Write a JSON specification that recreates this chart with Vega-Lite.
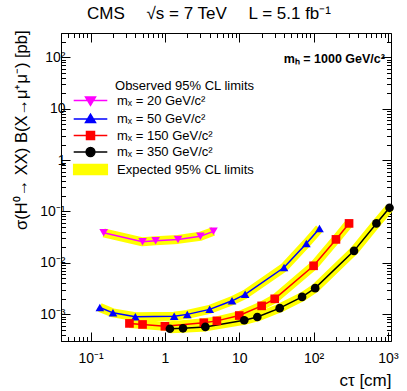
{
  "$schema": "https://vega.github.io/schema/vega-lite/v6.json",
  "width": 330,
  "height": 308,
  "autosize": "none",
  "padding": {"left": 61, "top": 33, "right": 16, "bottom": 50},
  "config": {"font": "Liberation Sans", "view": {"stroke": null}},
  "title": {"text": "CMS\u2003 \u221As = 7 TeV\u2003 L = 5.1 fb\u207B\u00B9", "anchor": "start", "frame": "group", "dx": 26, "fontSize": 17, "fontWeight": "normal", "offset": 3, "color": "black"},
  "data": {"values": [
    {"series": "m\u2093 = 20 GeV/c\u00B2", "ctau": 0.15, "limit": 0.0385},
    {"series": "m\u2093 = 20 GeV/c\u00B2", "ctau": 0.5, "limit": 0.0257},
    {"series": "m\u2093 = 20 GeV/c\u00B2", "ctau": 0.75, "limit": 0.0268},
    {"series": "m\u2093 = 20 GeV/c\u00B2", "ctau": 1.5, "limit": 0.0286},
    {"series": "m\u2093 = 20 GeV/c\u00B2", "ctau": 3, "limit": 0.033},
    {"series": "m\u2093 = 20 GeV/c\u00B2", "ctau": 4.5, "limit": 0.041},
    {"series": "m\u2093 = 50 GeV/c\u00B2", "ctau": 0.1333, "limit": 0.00135},
    {"series": "m\u2093 = 50 GeV/c\u00B2", "ctau": 0.2, "limit": 0.00106},
    {"series": "m\u2093 = 50 GeV/c\u00B2", "ctau": 0.4, "limit": 0.00089},
    {"series": "m\u2093 = 50 GeV/c\u00B2", "ctau": 1.333, "limit": 0.00091},
    {"series": "m\u2093 = 50 GeV/c\u00B2", "ctau": 2, "limit": 0.00099},
    {"series": "m\u2093 = 50 GeV/c\u00B2", "ctau": 4, "limit": 0.00124},
    {"series": "m\u2093 = 50 GeV/c\u00B2", "ctau": 8, "limit": 0.00182},
    {"series": "m\u2093 = 50 GeV/c\u00B2", "ctau": 12, "limit": 0.00243},
    {"series": "m\u2093 = 50 GeV/c\u00B2", "ctau": 40, "limit": 0.0081},
    {"series": "m\u2093 = 50 GeV/c\u00B2", "ctau": 80, "limit": 0.0239},
    {"series": "m\u2093 = 50 GeV/c\u00B2", "ctau": 120, "limit": 0.0467},
    {"series": "m\u2093 = 150 GeV/c\u00B2", "ctau": 0.3333, "limit": 0.00066},
    {"series": "m\u2093 = 150 GeV/c\u00B2", "ctau": 0.5, "limit": 0.00063},
    {"series": "m\u2093 = 150 GeV/c\u00B2", "ctau": 1, "limit": 0.00058},
    {"series": "m\u2093 = 150 GeV/c\u00B2", "ctau": 3.333, "limit": 0.00068},
    {"series": "m\u2093 = 150 GeV/c\u00B2", "ctau": 5, "limit": 0.00074},
    {"series": "m\u2093 = 150 GeV/c\u00B2", "ctau": 10, "limit": 0.00094},
    {"series": "m\u2093 = 150 GeV/c\u00B2", "ctau": 20, "limit": 0.00145},
    {"series": "m\u2093 = 150 GeV/c\u00B2", "ctau": 30, "limit": 0.00199},
    {"series": "m\u2093 = 150 GeV/c\u00B2", "ctau": 100, "limit": 0.00875},
    {"series": "m\u2093 = 150 GeV/c\u00B2", "ctau": 200, "limit": 0.0286},
    {"series": "m\u2093 = 150 GeV/c\u00B2", "ctau": 300, "limit": 0.0586},
    {"series": "m\u2093 = 350 GeV/c\u00B2", "ctau": 1.1667, "limit": 0.00052},
    {"series": "m\u2093 = 350 GeV/c\u00B2", "ctau": 1.75, "limit": 0.00053},
    {"series": "m\u2093 = 350 GeV/c\u00B2", "ctau": 3.5, "limit": 0.000565},
    {"series": "m\u2093 = 350 GeV/c\u00B2", "ctau": 11.667, "limit": 0.00076},
    {"series": "m\u2093 = 350 GeV/c\u00B2", "ctau": 17.5, "limit": 0.00088},
    {"series": "m\u2093 = 350 GeV/c\u00B2", "ctau": 35, "limit": 0.00131},
    {"series": "m\u2093 = 350 GeV/c\u00B2", "ctau": 70, "limit": 0.00217},
    {"series": "m\u2093 = 350 GeV/c\u00B2", "ctau": 105, "limit": 0.00321},
    {"series": "m\u2093 = 350 GeV/c\u00B2", "ctau": 350, "limit": 0.0171},
    {"series": "m\u2093 = 350 GeV/c\u00B2", "ctau": 700, "limit": 0.0586},
    {"series": "m\u2093 = 350 GeV/c\u00B2", "ctau": 1050, "limit": 0.118}
  ]},
  "resolve": {"axis": {"x": "independent", "y": "independent"}},
  "layer": [
    {
      "mark": {"type": "line", "strokeWidth": 9, "strokeCap": "butt", "strokeJoin": "round"},
      "encoding": {
        "x": {"field": "ctau", "type": "quantitative",
          "scale": {"type": "log", "domain": [0.04, 1100], "nice": false},
          "axis": {"orient": "bottom", "grid": false,
            "values": [0.04,0.05,0.06,0.07,0.08,0.09,0.1,0.2,0.3,0.4,0.5,0.6,0.7,0.8,0.9,1,2,3,4,5,6,7,8,9,10,20,30,40,50,60,70,80,90,100,200,300,400,500,600,700,800,900,1000],
            "labelExpr": "datum.value == 0.1 ? '10\u207B\u00B9' : datum.value == 1 ? '1' : datum.value == 10 ? '10' : datum.value == 100 ? '10\u00B2' : datum.value == 1000 ? '10\u00B3' : ''",
            "tickSize": {"condition": {"test": "indexof([0.1,1,10,100,1000], datum.value) >= 0", "value": -9}, "value": -4.5},
            "tickColor": "black", "domainColor": "black", "labelColor": "black",
            "labelFontSize": 14, "labelPadding": 19, "labelFlush": false, "labelOverlap": false, "labelBound": false,
            "title": "c\u03C4 [cm]", "titleAnchor": "end", "titleFontSize": 17, "titleFontWeight": "normal", "titleColor": "black", "titlePadding": 3}},
        "y": {"field": "limit", "type": "quantitative",
          "scale": {"type": "log", "domain": [0.0003, 300], "nice": false},
          "axis": {"orient": "left", "grid": false,
            "values": [0.0003,0.0004,0.0005,0.0006,0.0007,0.0008,0.0009,0.001,0.002,0.003,0.004,0.005,0.006,0.007,0.008,0.009,0.01,0.02,0.03,0.04,0.05,0.06,0.07,0.08,0.09,0.1,0.2,0.3,0.4,0.5,0.6,0.7,0.8,0.9,1,2,3,4,5,6,7,8,9,10,20,30,40,50,60,70,80,90,100,200,300],
            "labelExpr": "datum.value == 0.001 ? '10\u207B\u00B3' : datum.value == 0.01 ? '10\u207B\u00B2' : datum.value == 0.1 ? '10\u207B\u00B9' : datum.value == 1 ? '1' : datum.value == 10 ? '10' : datum.value == 100 ? '10\u00B2' : ''",
            "tickSize": {"condition": {"test": "indexof([0.001,0.01,0.1,1,10,100], datum.value) >= 0", "value": -9}, "value": -4.5},
            "tickColor": "black", "domainColor": "black", "labelColor": "black",
            "labelFontSize": 14, "labelPadding": 5, "labelFlush": false, "labelOverlap": false, "labelBound": false,
            "title": "\u03C3(H\u2070\u2192 XX) B(X\u2192\u03BC\u207A\u03BC\u207B) [pb]", "titleAnchor": "end", "titleFontSize": 16.5, "titleFontWeight": "normal", "titleColor": "black", "titlePadding": 10, "titleY": -3}},
        "color": {"datum": "Expected 95% CL limits"},
        "detail": {"field": "series"}
      }
    },
    {
      "mark": {"type": "line", "strokeWidth": 1.5},
      "encoding": {
        "x": {"field": "ctau", "type": "quantitative",
          "axis": {"orient": "top", "grid": false, "labels": false, "title": null,
            "values": [0.04,0.05,0.06,0.07,0.08,0.09,0.1,0.2,0.3,0.4,0.5,0.6,0.7,0.8,0.9,1,2,3,4,5,6,7,8,9,10,20,30,40,50,60,70,80,90,100,200,300,400,500,600,700,800,900,1000],
            "tickSize": {"condition": {"test": "indexof([0.1,1,10,100,1000], datum.value) >= 0", "value": -9}, "value": -4.5},
            "tickColor": "black", "domainColor": "black"}},
        "y": {"field": "limit", "type": "quantitative",
          "axis": {"orient": "right", "grid": false, "labels": false, "title": null,
            "values": [0.0003,0.0004,0.0005,0.0006,0.0007,0.0008,0.0009,0.001,0.002,0.003,0.004,0.005,0.006,0.007,0.008,0.009,0.01,0.02,0.03,0.04,0.05,0.06,0.07,0.08,0.09,0.1,0.2,0.3,0.4,0.5,0.6,0.7,0.8,0.9,1,2,3,4,5,6,7,8,9,10,20,30,40,50,60,70,80,90,100,200,300],
            "tickSize": {"condition": {"test": "indexof([0.001,0.01,0.1,1,10,100], datum.value) >= 0", "value": -9}, "value": -4.5},
            "tickColor": "black", "domainColor": "black"}},
        "color": {"field": "series", "type": "nominal",
          "scale": {"domain": ["m\u2093 = 20 GeV/c\u00B2", "m\u2093 = 50 GeV/c\u00B2", "m\u2093 = 150 GeV/c\u00B2", "m\u2093 = 350 GeV/c\u00B2", "Expected 95% CL limits"],
                    "range": ["#ff00ff", "#0000ff", "#ff0000", "#000000", "#ffff00"]},
          "legend": {"orient": "none", "legendX": 23, "legendY": 47, "padding": 0,
            "title": "Observed 95% CL limits", "titleFontSize": 13, "titleFontWeight": "normal", "titleAnchor": "end", "titlePadding": 1, "titleColor": "black",
            "labelFontSize": 13, "labelOffset": 20, "labelLimit": 300, "labelColor": "black", "symbolSize": 64, "rowPadding": 1.5,
            "encode": {"symbols": {"update": {
              "shape": {"signal": "indexof(datum.value, 'Expected') >= 0 ? 'M-4.2,-1.25H4.2V1.25H-4.2Z' : indexof(datum.value, '= 20 ') >= 0 ? 'M-4.2,0H4.2M-1.25,-0.9L1.25,-0.9L0,1.2Z' : indexof(datum.value, '= 50 ') >= 0 ? 'M-4.2,0H4.2M-1.25,0.9L1.25,0.9L0,-1.2Z' : indexof(datum.value, '= 150 ') >= 0 ? 'M-4.2,0H4.2M-1,-1H1V1H-1Z' : 'M-4.2,0H4.2M-1.1,0A1.1,1.1,0,1,0,1.1,0A1.1,1.1,0,1,0,-1.1,0Z'"},
              "fill": {"scale": "color", "field": "value"},
              "stroke": {"scale": "color", "field": "value"},
              "strokeWidth": {"value": 1.5},
              "opacity": {"value": 1},
              "fillOpacity": {"value": 1}
            }}}}}
      }
    },
    {
      "mark": {"type": "point", "filled": true, "opacity": 1, "size": 75},
      "encoding": {
        "x": {"field": "ctau", "type": "quantitative", "axis": null},
        "y": {"field": "limit", "type": "quantitative", "axis": null},
        "color": {"field": "series", "type": "nominal"},
        "shape": {"field": "series", "type": "nominal",
          "scale": {"domain": ["m\u2093 = 20 GeV/c\u00B2", "m\u2093 = 50 GeV/c\u00B2", "m\u2093 = 150 GeV/c\u00B2", "m\u2093 = 350 GeV/c\u00B2"],
                    "range": ["triangle-down", "triangle-up", "square", "circle"]},
          "legend": null}
      }
    },
    {
      "data": {"values": [{"note": "m\u2095 = 1000 GeV/c\u00B2"}]},
      "mark": {"type": "text", "align": "right", "baseline": "middle", "fontWeight": "bold", "fontSize": 12.5, "color": "black", "dx": -3},
      "encoding": {
        "x": {"datum": 1000, "type": "quantitative", "axis": null},
        "y": {"datum": 95, "type": "quantitative", "axis": null},
        "text": {"field": "note"}
      }
    }
  ]
}
